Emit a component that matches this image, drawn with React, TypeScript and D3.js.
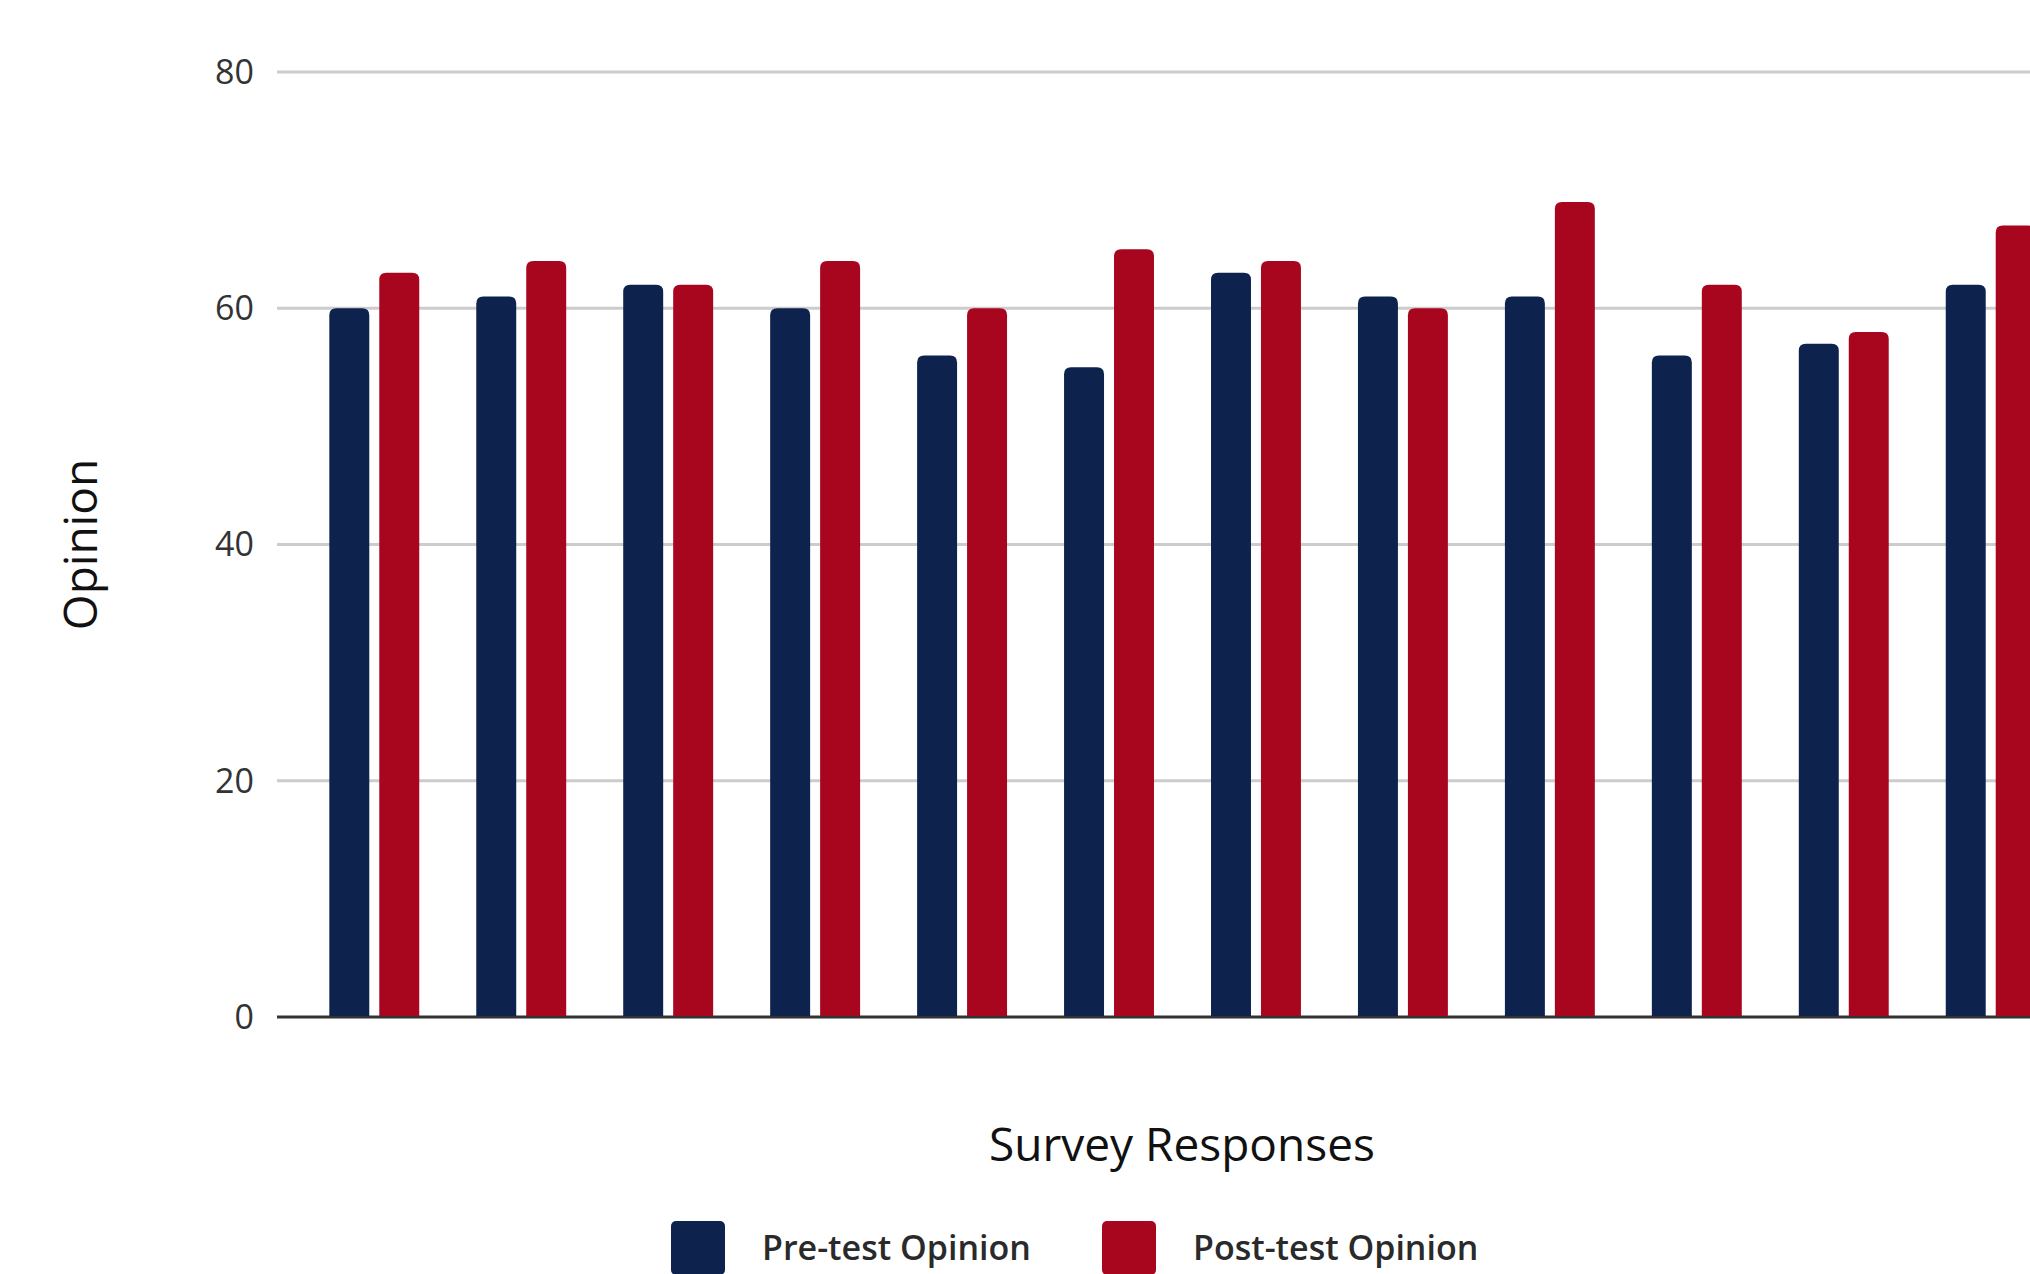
import React, { useEffect, useRef } from "react";
import * as d3 from "d3";

const categories: string[] = ["1", "2", "3", "4", "5", "6", "7", "8", "9", "10", "11", "12"];
const seriesNames: string[] = ["Pre-test Opinion", "Post-test Opinion"];
const preTest: number[] = [60, 61, 62, 60, 56, 55, 63, 61, 61, 56, 57, 62];
const postTest: number[] = [63, 64, 62, 64, 60, 65, 64, 60, 69, 62, 58, 67];
const yTicks: number[] = [0, 20, 40, 60, 80];

const colors = ["#0d234d", "#a8061f"];

const App: React.FC = () => {
    const svgRef = useRef<SVGSVGElement | null>(null);
    const width = 2030;
    const height = 1274;
    const margins = { top: 72, left: 277, bottom: 257 };

    useEffect(() => {
        if (!svgRef.current) return;
        const svg = d3.select(svgRef.current);
        svg.selectAll("*").remove();

        const font = "'Open Sans', 'Noto Sans', sans-serif";
        const y = d3
            .scaleLinear()
            .domain([0, 80])
            .range([height - margins.bottom, margins.top]);

        // outer band for the response groups, runs past the right edge (chart is cropped)
        const x = d3
            .scaleBand<string>()
            .domain(categories)
            .range([margins.left, 2088])
            .paddingInner(0.388)
            .paddingOuter(0.356);

        const xSub = d3
            .scaleBand<string>()
            .domain(seriesNames)
            .range([0, x.bandwidth()])
            .paddingInner(0.2);

        svg.append("rect")
            .attr("width", width)
            .attr("height", height)
            .attr("fill", "white");

        // gridlines
        svg.append("g")
            .selectAll("line")
            .data(yTicks.filter((d) => d !== 0))
            .join("line")
            .attr("x1", margins.left)
            .attr("x2", width)
            .attr("y1", (d) => y(d))
            .attr("y2", (d) => y(d))
            .attr("stroke", "#cccccc")
            .attr("stroke-width", 3);

        // tick labels
        svg.append("g")
            .selectAll("text")
            .data(yTicks)
            .join("text")
            .attr("x", 254)
            .attr("y", (d) => y(d))
            .attr("dy", "0.35em")
            .attr("text-anchor", "end")
            .attr("font-family", font)
            .attr("font-size", 34)
            .attr("fill", "#333")
            .text((d) => d);

        // baseline
        svg.append("line")
            .attr("x1", margins.left)
            .attr("x2", width)
            .attr("y1", y(0))
            .attr("y2", y(0))
            .attr("stroke", "#333")
            .attr("stroke-width", 3);

        const r = 7;
        const barPath = (x0: number, w: number, y0: number, y1: number) =>
            `M${x0},${y1}V${y0 + r}Q${x0},${y0} ${x0 + r},${y0}H${x0 + w - r}Q${x0 + w},${y0} ${x0 + w},${y0 + r}V${y1}Z`;

        const rows = categories.map((c, i) => ({ c, vals: [preTest[i], postTest[i]] }));

        svg.append("g")
            .selectAll("g")
            .data(rows)
            .join("g")
            .attr("transform", (d) => `translate(${x(d.c)},0)`)
            .selectAll("path")
            .data((d) => d.vals.map((v, j) => ({ v, j })))
            .join("path")
            .attr("d", (d) =>
                barPath(xSub(seriesNames[d.j]) as number, xSub.bandwidth(), y(d.v), y(0) - 1)
            )
            .attr("fill", (d) => colors[d.j]);

        // axis titles
        svg.append("text")
            .attr("transform", `translate(97,${(margins.top + y(0)) / 2}) rotate(-90)`)
            .attr("text-anchor", "middle")
            .attr("font-family", font)
            .attr("font-size", 46)
            .attr("fill", "#111")
            .text("Opinion");

        svg.append("text")
            .attr("x", 1182)
            .attr("y", 1161)
            .attr("text-anchor", "middle")
            .attr("font-family", font)
            .attr("font-size", 46)
            .attr("fill", "#111")
            .text("Survey Responses");

        // legend
        const legendX = [671, 1102];
        const legend = svg
            .append("g")
            .selectAll("g")
            .data(seriesNames)
            .join("g")
            .attr("transform", (d, i) => `translate(${legendX[i]},1221)`);

        legend
            .append("rect")
            .attr("width", 54)
            .attr("height", 54)
            .attr("rx", 5)
            .attr("fill", (d, i) => colors[i]);

        legend
            .append("text")
            .attr("x", 91)
            .attr("y", 39)
            .attr("font-family", font)
            .attr("font-size", 34)
            .attr("font-weight", 600)
            .attr("fill", "#2a2a2a")
            .text((d) => d);
    }, []);

    return (
        <svg
            ref={svgRef}
            width={width}
            height={height}
            style={{ position: "absolute", left: 0, top: 0, display: "block" }}
        ></svg>
    );
};

export default App;
